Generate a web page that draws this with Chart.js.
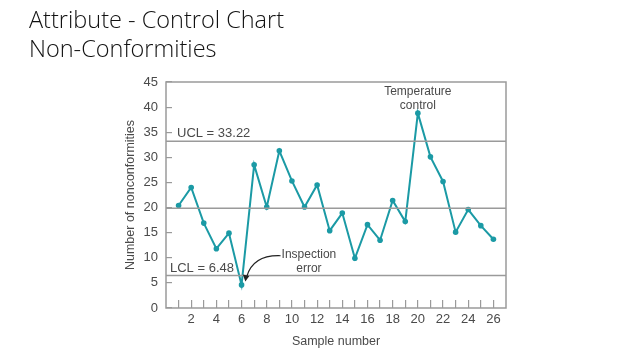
<!DOCTYPE html>
<html>
<head>
<meta charset="utf-8">
<script src="https://cdn.jsdelivr.net/npm/chart.js@4.4.1/dist/chart.umd.min.js"></script>
<style>
	html, body { margin: 0; padding: 0; background: #fff; }
	#wrap { position: relative; width: 638px; height: 359px; overflow: hidden; }
	#chart { position: absolute; left: 0; top: 0; }
	.title { position: absolute; left: 29px; font-family: "Open Sans", sans-serif; font-weight: 300; font-size: 23.5px; color: #111; line-height: 1; white-space: nowrap; }
</style>
</head>
<body>
<div id="wrap">
	<canvas id="chart" width="638" height="359"></canvas>
	<div class="title" style="top:8px">Attribute - Control Chart</div>
	<div class="title" style="top:37px">Non-Conformities</div>
</div>
<script>
// sample numbers and counts
const samples = [1, 2, 3, 4, 5, 6, 7, 8, 9, 10, 11, 12, 13, 14, 15, 16, 17, 18, 19, 20, 21, 22, 23, 24, 25, 26];
const nonconformities = [20.4, 24, 16.9, 11.8, 14.9, 4.6, 28.5, 20.1, 31.3, 25.3, 20.1, 24.5, 15.4, 18.9, 9.9, 16.6, 13.5, 21.4, 17.2, 38.8, 30.1, 25.2, 15.1, 19.6, 16.4, 13.7];
const ucl = 33.22;
const centerLine = 19.85;
const lcl = 6.48;
const yTicks = [0, 5, 10, 15, 20, 25, 30, 35, 40, 45];
const xLabels = [2, 4, 6, 8, 10, 12, 14, 16, 18, 20, 22, 24, 26];

const teal = '#1b9aa5';
const gray = '#9a9a9a';
const textGray = '#4a4a4a';
const tickFont = { family: 'Liberation Sans, Arial, sans-serif', size: 13 };

function limitLine(v) {
	return {
		data: [{ x: 0, y: v }, { x: 27, y: v }],
		borderColor: gray,
		borderWidth: 1.5,
		pointRadius: 0,
		fill: false
	};
}

// box around plot + text notes
const notes = {
	id: 'notes',
	afterDatasetsDraw(chart) {
		const ctx = chart.ctx;
		const a = chart.chartArea;
		const xs = chart.scales.x, ys = chart.scales.y;
		ctx.save();
		ctx.strokeStyle = gray;
		ctx.lineWidth = 1.5;
		ctx.strokeRect(a.left, a.top, a.right - a.left, a.bottom - a.top);

		ctx.fillStyle = textGray;
		ctx.font = '13px "Liberation Sans", Arial, sans-serif';
		ctx.textBaseline = 'middle';
		ctx.textAlign = 'left';
		ctx.fillText('UCL = ' + ucl.toFixed(2), a.left + 11, ys.getPixelForValue(ucl) - 8);
		ctx.fillText('LCL = ' + lcl.toFixed(2), a.left + 4, ys.getPixelForValue(lcl) - 7);

		ctx.font = '12px "Liberation Sans", Arial, sans-serif';
		ctx.textAlign = 'center';
		const tx = xs.getPixelForValue(20);
		ctx.fillText('Temperature', tx, ys.getPixelForValue(43.1));
		ctx.fillText('control', tx, ys.getPixelForValue(40.3));
		const ix = xs.getPixelForValue(11.35);
		ctx.fillText('Inspection', ix, ys.getPixelForValue(10.6));
		ctx.fillText('error', ix, ys.getPixelForValue(7.9));

		// curved arrow to sample 6
		const sx = xs.getPixelForValue(9.1), sy = ys.getPixelForValue(10.4);
		const ex = xs.getPixelForValue(6.3), ey = ys.getPixelForValue(5.3);
		ctx.strokeStyle = '#222';
		ctx.lineWidth = 1.2;
		ctx.beginPath();
		ctx.moveTo(sx, sy);
		ctx.quadraticCurveTo(ex + 8, sy - 1, ex + 1.5, ey - 5);
		ctx.stroke();
		ctx.fillStyle = '#222';
		ctx.beginPath();
		ctx.moveTo(ex, ey);
		ctx.lineTo(ex - 2.5, ey - 7);
		ctx.lineTo(ex + 4, ey - 5.5);
		ctx.closePath();
		ctx.fill();
		ctx.restore();
	}
};

new Chart(document.getElementById('chart'), {
	type: 'line',
	data: {
		datasets: [
			limitLine(ucl),
			limitLine(centerLine),
			limitLine(lcl),
			{
				data: samples.map((s, i) => ({ x: s, y: nonconformities[i] })),
				borderColor: teal,
				backgroundColor: teal,
				borderWidth: 2,
				pointRadius: 2.8,
				pointBorderWidth: 0,
				tension: 0,
				fill: false
			}
		]
	},
	options: {
		responsive: false,
		animation: false,
		layout: { padding: { left: 123, top: 82, right: 132, bottom: 0 } },
		plugins: { legend: { display: false }, tooltip: { enabled: false } },
		scales: {
			x: {
				type: 'linear',
				min: 0,
				max: 27,
				afterFit: s => { s.height = 51; },
				afterBuildTicks: s => { s.ticks = samples.map(v => ({ value: v })); },
				border: { display: false },
				grid: { drawOnChartArea: false, color: gray, lineWidth: 1.2, tickLength: -8 },
				ticks: {
					autoSkip: false,
					maxRotation: 0,
					padding: 12,
					color: textGray,
					font: tickFont,
					callback: v => xLabels.includes(v) ? String(v) : ''
				},
				title: { display: true, text: 'Sample number', color: textGray, font: { family: tickFont.family, size: 12.5 }, padding: { top: 0, bottom: 10 } }
			},
			y: {
				min: 0,
				max: 45,
				afterFit: s => { s.width = 43; },
				afterBuildTicks: s => { s.ticks = yTicks.map(v => ({ value: v })); },
				border: { display: false },
				grid: { drawOnChartArea: false, color: gray, lineWidth: 1.2, tickLength: -6 },
				ticks: { padding: 14, color: textGray, font: tickFont },
				title: { display: true, text: 'Number of nonconformities', color: textGray, font: { family: tickFont.family, size: 12.5 }, padding: { top: 0, bottom: 0 } }
			}
		}
	},
	plugins: [notes]
});
</script>
</body>
</html>
